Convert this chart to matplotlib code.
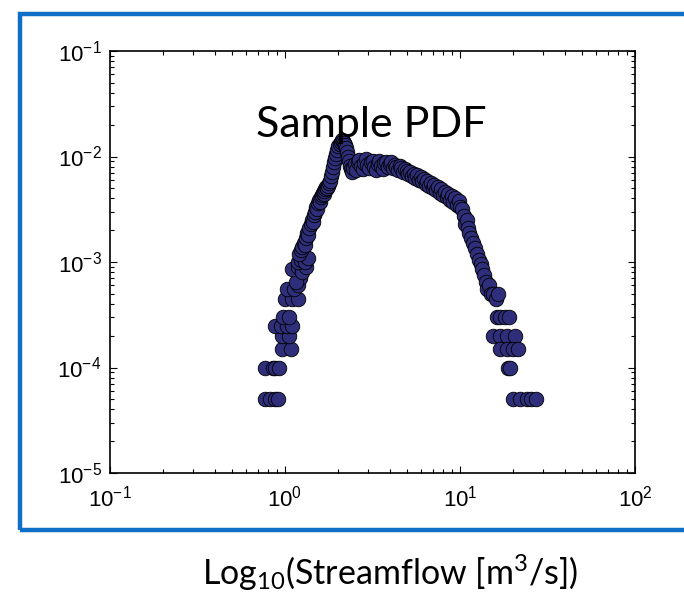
"""Sample PDF of streamflow on log-log axes (MATLAB-style slide figure)."""
import matplotlib
matplotlib.use("Agg")
import matplotlib.pyplot as plt
from matplotlib.patches import Rectangle
from matplotlib.ticker import FixedLocator, LogLocator, NullFormatter

# --- data ---------------------------------------------------------------
# left tail (low counts)
x_left = [0.77, 0.82, 0.875, 0.91, 0.77, 0.85, 0.88, 0.92,
          0.96, 1.08, 0.96, 1.05, 0.88, 0.95, 1.02, 1.10,
          0.98, 1.06, 1.00, 1.10, 1.18, 1.03, 1.12, 1.18,
          1.22, 1.15, 1.10, 1.18, 1.25, 1.31, 1.18, 1.24, 1.30, 1.36]
y_left = [5e-5, 5e-5, 5e-5, 5e-5, 1e-4, 1e-4, 1e-4, 1e-4,
          1.5e-4, 1.5e-4, 2e-4, 2e-4, 2.5e-4, 2.5e-4, 2.5e-4, 2.5e-4,
          3e-4, 3e-4, 4.5e-4, 4.5e-4, 4.5e-4, 5.5e-4, 5.5e-4, 6e-4,
          7e-4, 6.5e-4, 8.5e-4, 9e-4, 8e-4, 9e-4, 1e-3, 1.05e-3, 1e-3, 1.1e-3]

# rising limb and peak
x_rise = [1.20, 1.23, 1.25, 1.28, 1.30, 1.32, 1.34, 1.36, 1.38, 1.40,
          1.42, 1.44, 1.46, 1.48, 1.50, 1.52, 1.54, 1.56, 1.58, 1.60,
          1.62, 1.64, 1.66, 1.68, 1.70, 1.72, 1.74, 1.76, 1.78, 1.80,
          1.83, 1.86, 1.88, 1.90, 1.93, 1.96, 1.99, 2.02, 2.05, 2.08,
          2.11, 2.14, 2.17, 2.20, 2.23, 2.26, 2.29, 2.32, 2.35, 2.38]
y_rise = [1.2e-3, 1.3e-3, 1.4e-3, 1.5e-3, 1.45e-3, 1.7e-3, 1.9e-3, 1.8e-3, 2.1e-3, 2.3e-3,
          2.5e-3, 2.4e-3, 2.8e-3, 3.0e-3, 3.3e-3, 3.2e-3, 3.6e-3, 3.9e-3, 3.7e-3, 4.1e-3,
          4.3e-3, 4.5e-3, 4.4e-3, 4.7e-3, 4.9e-3, 5.1e-3, 5.0e-3, 5.3e-3, 5.6e-3, 5.9e-3,
          6.5e-3, 7.2e-3, 8.0e-3, 8.8e-3, 9.6e-3, 1.06e-2, 1.15e-2, 1.25e-2, 1.32e-2, 1.38e-2,
          1.42e-2, 1.40e-2, 1.35e-2, 1.28e-2, 1.2e-2, 1.1e-2, 1.0e-2, 9.0e-3, 8.2e-3, 7.6e-3]

# plateau
x_mid = [2.40, 2.45, 2.50, 2.55, 2.60, 2.66, 2.72, 2.78, 2.84, 2.90,
         2.96, 3.03, 3.10, 3.17, 3.24, 3.31, 3.38, 3.46, 3.54, 3.62,
         3.70, 3.78, 3.87, 3.96, 4.05, 4.14, 4.23, 4.33, 4.43, 4.53,
         4.63, 4.74, 4.85, 4.96, 5.07, 5.19, 5.31, 5.43, 5.56, 5.69,
         5.82, 5.95, 6.09, 6.23, 6.37, 6.52, 6.67, 6.82, 6.98, 7.14,
         7.31, 7.48, 7.65, 7.83, 8.01, 8.19, 8.38, 8.57, 8.77, 8.97,
         9.18, 9.39, 9.60, 9.82, 10.0]
y_mid = [7.2e-3, 7.8e-3, 8.4e-3, 7.5e-3, 8.8e-3, 9.2e-3, 8.1e-3, 7.6e-3, 8.6e-3, 9.4e-3,
         8.3e-3, 7.7e-3, 8.9e-3, 9.1e-3, 8.0e-3, 7.4e-3, 8.5e-3, 9.0e-3, 8.2e-3, 7.6e-3,
         8.7e-3, 8.9e-3, 7.9e-3, 8.4e-3, 8.8e-3, 7.7e-3, 8.3e-3, 8.0e-3, 7.4e-3, 8.2e-3,
         7.8e-3, 7.1e-3, 7.6e-3, 7.3e-3, 6.8e-3, 7.2e-3, 6.6e-3, 6.9e-3, 6.3e-3, 6.7e-3,
         6.0e-3, 6.4e-3, 5.8e-3, 6.1e-3, 5.5e-3, 5.9e-3, 5.3e-3, 5.6e-3, 5.0e-3, 5.4e-3,
         4.8e-3, 5.1e-3, 4.5e-3, 4.9e-3, 4.3e-3, 4.6e-3, 4.1e-3, 4.4e-3, 3.9e-3, 4.2e-3,
         3.7e-3, 4.0e-3, 3.5e-3, 3.8e-3, 3.3e-3]

# right tail
x_right = [10.3, 10.5, 10.7, 10.9, 11.1, 11.3, 11.6, 11.9, 12.2, 12.5,
           12.8, 13.1, 13.4, 13.7, 14.0, 14.3, 14.6, 15.0, 15.5, 16.0,
           16.5, 16.2, 17.0, 18.0, 19.0, 15.5, 17.0, 18.5, 20.5, 17.0,
           18.5, 20.0, 21.5, 18.7, 19.2, 20.0, 22.0, 24.0, 25.5, 27.3]
y_right = [3.2e-3, 2.7e-3, 2.3e-3, 2.5e-3, 2.1e-3, 1.9e-3, 1.7e-3, 1.5e-3, 1.35e-3, 1.2e-3,
           1.05e-3, 9.5e-4, 8.5e-4, 7.5e-4, 6.5e-4, 5.5e-4, 6.0e-4, 5.0e-4, 5.0e-4, 4.5e-4,
           5.0e-4, 3e-4, 3e-4, 3e-4, 3e-4, 2e-4, 2e-4, 2e-4, 2e-4, 1.5e-4,
           1.5e-4, 1.5e-4, 1.5e-4, 1e-4, 1e-4, 5e-5, 5e-5, 5e-5, 5e-5, 5e-5]

xticks = [1e-1, 1e0, 1e1, 1e2]
yticks = [1e-5, 1e-4, 1e-3, 1e-2, 1e-1]
xticklabels = [r"$\mathregular{10^{-1}}$", r"$\mathregular{10^{0}}$",
               r"$\mathregular{10^{1}}$", r"$\mathregular{10^{2}}$"]
yticklabels = [r"$\mathregular{10^{-5}}$", r"$\mathregular{10^{-4}}$",
               r"$\mathregular{10^{-3}}$", r"$\mathregular{10^{-2}}$",
               r"$\mathregular{10^{-1}}$"]

x_all = x_left + x_rise + x_mid + x_right
y_all = y_left + y_rise + y_mid + y_right

fig = plt.figure(figsize=(6.84, 5.92), dpi=100)

# blue slide frame (open on the right)
frame = Rectangle((20 / 684, 1 - 530 / 592), 1.2, (530 - 14) / 592,
                  transform=fig.transFigure, fill=False,
                  edgecolor="#0F6FC6", lw=3.2, clip_on=False)
fig.patches.append(frame)

ax = fig.add_axes([110 / 684, 1 - 473 / 592, 525 / 684, 422 / 592])
ax.scatter(x_all, y_all, s=110, facecolor="#2E2E7A", edgecolor="black",
           linewidths=0.6, zorder=3)

ax.set_xscale("log")
ax.set_yscale("log")
ax.set_xlim(1e-1, 1e2)
ax.set_ylim(1e-5, 1e-1)
ax.xaxis.set_major_locator(FixedLocator(xticks))
ax.yaxis.set_major_locator(FixedLocator(yticks))
ax.set_xticklabels(xticklabels, fontfamily="Liberation Sans", fontsize=16)
ax.set_yticklabels(yticklabels, fontfamily="Liberation Sans", fontsize=16)
ax.xaxis.set_minor_locator(LogLocator(base=10, subs=range(2, 10)))
ax.yaxis.set_minor_locator(LogLocator(base=10, subs=range(2, 10)))
ax.xaxis.set_minor_formatter(NullFormatter())
ax.yaxis.set_minor_formatter(NullFormatter())
ax.tick_params(which="both", direction="in", top=True, right=True,
               width=0.8, colors="black")
ax.tick_params(which="major", length=5)
ax.tick_params(axis="x", which="major", pad=9)
ax.tick_params(axis="y", which="major", pad=6)
ax.tick_params(which="minor", length=3)
for sp in ax.spines.values():
    sp.set_linewidth(1.2)

ax.text(371 / 684, 1 - 137 / 592, "Sample PDF", transform=fig.transFigure,
        ha="center", va="baseline", fontsize=31, fontfamily="Lato")

fig.text(390 / 684, 1 - 585 / 592,
         r"Log$\mathregular{_{10}}$(Streamflow [m$\mathregular{^{3}}$/s])",
         ha="center", va="baseline", fontsize=24.5, fontfamily="Lato")

fig.savefig("out.png", dpi=100)
